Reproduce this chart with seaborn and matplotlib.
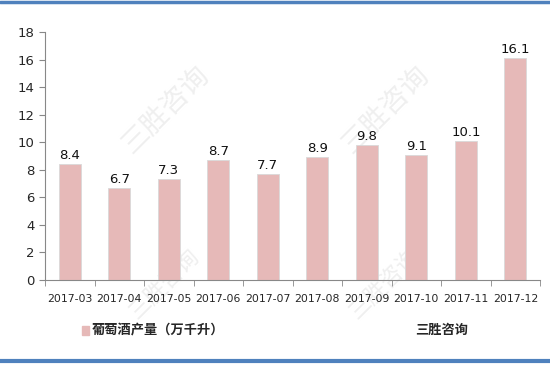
import matplotlib
matplotlib.use("Agg")
import matplotlib.pyplot as plt
import pandas as pd
import seaborn as sns

months = ["2017-03", "2017-04", "2017-05", "2017-06", "2017-07",
          "2017-08", "2017-09", "2017-10", "2017-11", "2017-12"]
output = [8.4, 6.7, 7.3, 8.7, 7.7, 8.9, 9.8, 9.1, 10.1, 16.1]
yticks = [0, 2, 4, 6, 8, 10, 12, 14, 16, 18]

series_name = "葡萄酒产量（万千升）"
source_name = "三胜咨询"
bar_color = "#e6b9b8"

sns.set_style("white")
plt.rcParams["font.family"] = ["Noto Sans CJK SC", "DejaVu Sans"]

df = pd.DataFrame({"month": months, "value": output})

fig = plt.figure(figsize=(5.5, 3.65), dpi=100)
ax = fig.add_axes([0.082, 0.233, 0.9, 0.679])

# faint watermarks (behind everything)
for wx, wy, fs in [(0.30, 0.70, 20), (0.70, 0.70, 20), (0.30, 0.22, 16), (0.70, 0.22, 16)]:
    fig.text(wx, wy, "三胜咨询", fontsize=fs, color="#efefef", rotation=45,
             ha="center", va="center", zorder=-1)

sns.barplot(data=df, x="month", y="value", color=bar_color, width=0.45,
            saturation=1, ax=ax, zorder=2)
for p in ax.patches:
    p.set_edgecolor("#d9d9d9")
    p.set_linewidth(0.6)

for i, v in enumerate(output):
    ax.text(i, v + 0.15, f"{v}", ha="center", va="bottom", fontsize=9.5,
            family="DejaVu Sans", color="#111111", zorder=3)

ax.set_ylim(0, 18)
ax.set_yticks(yticks)
ax.set_xlim(-0.5, len(months) - 0.5)
ax.set_xlabel("")
ax.set_ylabel("")
ax.patch.set_alpha(0)
for s in ["top", "right"]:
    ax.spines[s].set_visible(False)
for s in ["left", "bottom"]:
    ax.spines[s].set_color("#888888")
    ax.spines[s].set_linewidth(0.8)
ax.tick_params(axis="y", labelsize=9.5, length=4, color="#888888", direction="out", left=True)
ax.tick_params(axis="x", labelsize=7.8, length=0, pad=10)
for lbl in ax.get_xticklabels() + ax.get_yticklabels():
    lbl.set_family("DejaVu Sans")
# x ticks between categories
ax.set_xticks([i - 0.5 for i in range(len(months) + 1)], minor=True)
ax.tick_params(axis="x", which="minor", length=4, color="#888888", bottom=True)

# legend
fig.patches.append(plt.Rectangle((0.149, 0.083), 0.012, 0.024, color=bar_color,
                                 transform=fig.transFigure, figure=fig))
fig.text(0.167, 0.095, series_name, fontsize=9.5, fontweight="bold", va="center", ha="left")
fig.text(0.755, 0.095, source_name, fontsize=9.5, fontweight="bold", va="center", ha="left")

# blue frame lines
fig.add_artist(plt.Line2D([0, 1], [0.994, 0.994], color="#4f81bd", lw=2.5, transform=fig.transFigure))
fig.add_artist(plt.Line2D([0, 1], [0.012, 0.012], color="#4f81bd", lw=3, transform=fig.transFigure))

fig.savefig("out.png", dpi=100)
